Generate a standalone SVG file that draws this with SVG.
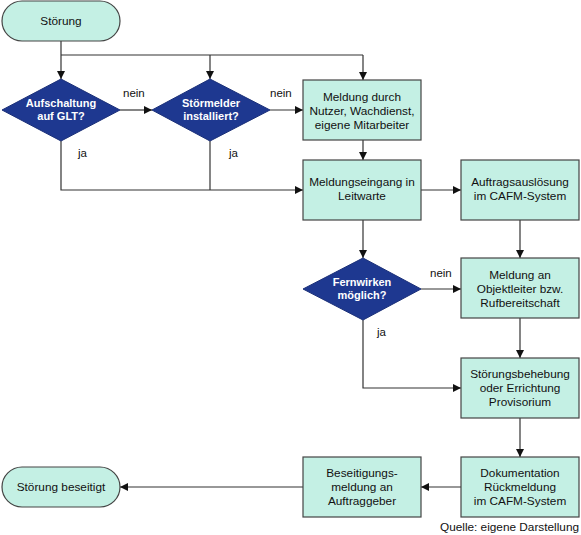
<svg xmlns="http://www.w3.org/2000/svg" width="581" height="535" viewBox="0 0 581 535">
<defs>
<marker id="ah" markerWidth="8" markerHeight="8" refX="8" refY="4" orient="auto" markerUnits="userSpaceOnUse">
<path d="M0,0 L8,4 L0,8 Z" fill="#111"/>
</marker>
<style>
.box{fill:#c4f0e4;stroke:#444;stroke-width:1.2}
.dia{fill:#1e3890;stroke:#1a2f78;stroke-width:1}
.t{font-family:"Liberation Sans",Arial,sans-serif;font-size:11.8px;fill:#111;text-anchor:middle}
.dt{font-family:"Liberation Sans",Arial,sans-serif;font-size:11px;font-weight:bold;fill:#fff;text-anchor:middle}
.lbl{font-family:"Liberation Sans",Arial,sans-serif;font-size:11.5px;fill:#111}
.c{fill:none;stroke:#333;stroke-width:1.2}
.ca{fill:none;stroke:#333;stroke-width:1.2;marker-end:url(#ah)}
</style>
</defs>
<rect width="581" height="535" fill="#fff"/>
<g id="connectors">
<path class="ca" d="M61,41 V79"/>
<path class="c" d="M61,55 H363"/>
<path class="ca" d="M210,55 V79"/>
<path class="ca" d="M363,55 V80"/>
<path class="ca" d="M120,110 H152"/>
<path class="ca" d="M270,110 H303"/>
<path class="ca" d="M61,141 V190 H303"/>
<path class="c" d="M210,141 V190"/>
<path class="ca" d="M363,140 V160"/>
<path class="ca" d="M421,190 H461"/>
<path class="ca" d="M363,220 V258"/>
<path class="ca" d="M421,289 H461"/>
<path class="ca" d="M520,220 V258"/>
<path class="ca" d="M363,320 V388 H461"/>
<path class="ca" d="M520,318 V358"/>
<path class="ca" d="M520,418 V457"/>
<path class="ca" d="M461,487 H421"/>
<path class="ca" d="M303,487 H120"/>
<text class="lbl" x="123" y="97">nein</text>
<text class="lbl" x="270" y="97">nein</text>
<text class="lbl" x="78" y="157">ja</text>
<text class="lbl" x="229" y="157">ja</text>
<text class="lbl" x="430" y="277">nein</text>
<text class="lbl" x="377" y="336">ja</text>
</g>
<g id="start">
<rect class="box" x="2" y="1" width="118" height="40" rx="20"/>
<text class="t" x="61" y="25">Störung</text>
</g>
<g id="d1">
<polygon class="dia" points="61,79 120,110 61,141 2,110"/>
<text class="dt" x="61" y="107">Aufschaltung</text>
<text class="dt" x="61" y="120">auf GLT?</text>
</g>
<g id="d2">
<polygon class="dia" points="210,79 270,110 210,141 152,110"/>
<text class="dt" x="211" y="107">Störmelder</text>
<text class="dt" x="211" y="120">installiert?</text>
</g>
<g id="b1">
<rect class="box" x="303" y="80" width="118" height="60"/>
<text class="t" x="362" y="101">Meldung durch</text>
<text class="t" x="362" y="115">Nutzer, Wachdienst,</text>
<text class="t" x="362" y="129">eigene Mitarbeiter</text>
</g>
<g id="b2">
<rect class="box" x="303" y="160" width="118" height="60"/>
<text class="t" x="362" y="186">Meldungseingang in</text>
<text class="t" x="362" y="200">Leitwarte</text>
</g>
<g id="b3">
<rect class="box" x="461" y="160" width="118" height="60"/>
<text class="t" x="520" y="186">Auftragsauslösung</text>
<text class="t" x="520" y="200">im CAFM-System</text>
</g>
<g id="d3">
<polygon class="dia" points="363,258 421,289 363,320 303,289"/>
<text class="dt" x="362" y="286">Fernwirken</text>
<text class="dt" x="362" y="299">möglich?</text>
</g>
<g id="b4">
<rect class="box" x="461" y="258" width="118" height="60"/>
<text class="t" x="520" y="279">Meldung an</text>
<text class="t" x="520" y="293">Objektleiter bzw.</text>
<text class="t" x="520" y="307">Rufbereitschaft</text>
</g>
<g id="b5">
<rect class="box" x="461" y="358" width="118" height="60"/>
<text class="t" x="520" y="378">Störungsbehebung</text>
<text class="t" x="520" y="392">oder Errichtung</text>
<text class="t" x="520" y="406">Provisorium</text>
</g>
<g id="b6">
<rect class="box" x="461" y="457" width="118" height="60"/>
<text class="t" x="520" y="477">Dokumentation</text>
<text class="t" x="520" y="491">Rückmeldung</text>
<text class="t" x="520" y="505">im CAFM-System</text>
</g>
<g id="b7">
<rect class="box" x="303" y="457" width="118" height="60"/>
<text class="t" x="362" y="477">Beseitigungs-</text>
<text class="t" x="362" y="491">meldung an</text>
<text class="t" x="362" y="505">Auftraggeber</text>
</g>
<g id="end">
<rect class="box" x="2" y="467" width="118" height="40" rx="20"/>
<text class="t" x="61" y="491">Störung beseitigt</text>
</g>
<text class="t" x="579" y="531" style="text-anchor:end">Quelle: eigene Darstellung</text>
</svg>
